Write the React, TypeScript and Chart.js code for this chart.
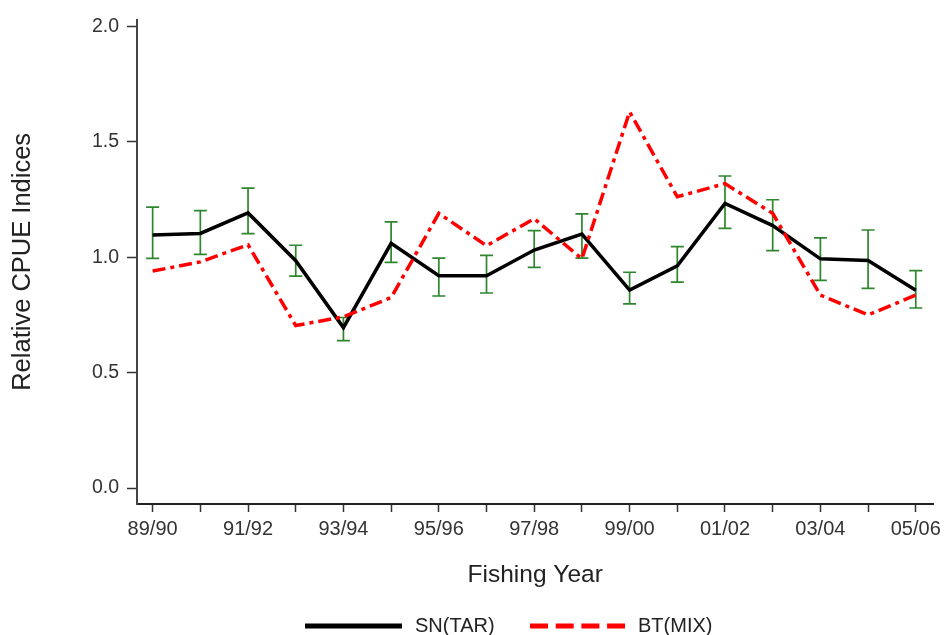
import { useEffect, useRef } from 'react';
import { Chart, registerables } from 'chart.js';

Chart.register(...registerables);

const years = ['89/90', '90/91', '91/92', '92/93', '93/94', '94/95', '95/96', '96/97', '97/98', '98/99', '99/00', '00/01', '01/02', '02/03', '03/04', '04/05', '05/06'];
const snTar = [1.096, 1.103, 1.192, 0.985, 0.695, 1.06, 0.92, 0.92, 1.031, 1.10, 0.858, 0.963, 1.233, 1.137, 0.993, 0.986, 0.857];
const snLow = [0.995, 1.012, 1.102, 0.918, 0.639, 0.978, 0.832, 0.845, 0.956, 0.996, 0.798, 0.892, 1.125, 1.029, 0.90, 0.865, 0.780];
const snHigh = [1.217, 1.202, 1.299, 1.052, 0.739, 1.153, 0.996, 1.008, 1.115, 1.188, 0.935, 1.046, 1.352, 1.249, 1.084, 1.118, 0.942];
const btMix = [0.94, 0.98, 1.054, 0.704, 0.742, 0.825, 1.19, 1.05, 1.167, 0.993, 1.63, 1.262, 1.319, 1.19, 0.836, 0.75, 0.836];
const yTicks = [0, 0.5, 1.0, 1.5, 2.0];

const FONT = "'Liberation Sans', Arial, sans-serif";

const errorBars = {
  id: 'errorBars',
  beforeDatasetsDraw(chart: any) {
    const { ctx, scales } = chart;
    const xs = scales.x;
    const ys = scales.y;
    ctx.save();
    ctx.strokeStyle = '#2e862e';
    ctx.lineWidth = 1.7;
    const cap = 6.5;
    snLow.forEach((lo, i) => {
      const x = xs.getPixelForValue(i);
      const yl = ys.getPixelForValue(lo);
      const yh = ys.getPixelForValue(snHigh[i]);
      ctx.beginPath();
      ctx.moveTo(x, yl);
      ctx.lineTo(x, yh);
      ctx.moveTo(x - cap, yl);
      ctx.lineTo(x + cap, yl);
      ctx.moveTo(x - cap, yh);
      ctx.lineTo(x + cap, yh);
      ctx.stroke();
    });
    ctx.restore();
  },
};

const customLegend = {
  id: 'customLegend',
  afterDraw(chart: any) {
    const { ctx } = chart;
    const y = 626;
    ctx.save();
    ctx.lineWidth = 5;
    ctx.strokeStyle = '#000000';
    ctx.setLineDash([]);
    ctx.beginPath();
    ctx.moveTo(305, y);
    ctx.lineTo(402, y);
    ctx.stroke();
    ctx.strokeStyle = '#ff0000';
    ctx.setLineDash([18, 7.7]);
    ctx.beginPath();
    ctx.moveTo(530, y);
    ctx.lineTo(625, y);
    ctx.stroke();
    ctx.setLineDash([]);
    ctx.fillStyle = '#222222';
    ctx.font = `20px ${FONT}`;
    ctx.textBaseline = 'middle';
    ctx.textAlign = 'left';
    ctx.fillText('SN(TAR)', 415, y);
    ctx.fillText('BT(MIX)', 638, y);
    ctx.restore();
  },
};

export default function App() {
  const ref = useRef<HTMLCanvasElement | null>(null);

  useEffect(() => {
    if (!ref.current) return;
    const chart = new Chart(ref.current, {
      type: 'line',
      data: {
        datasets: [
          {
            label: 'SN(TAR)',
            data: snTar.map((v, i) => ({ x: i, y: v })),
            borderColor: '#000000',
            backgroundColor: '#000000',
            borderWidth: 3.5,
            pointRadius: 0,
            tension: 0,
            order: 2,
          },
          {
            label: 'BT(MIX)',
            data: btMix.map((v, i) => ({ x: i, y: v })),
            borderColor: '#ff0000',
            backgroundColor: '#ff0000',
            borderWidth: 3.5,
            borderDash: [13, 5, 4, 5],
            pointRadius: 0,
            tension: 0,
            order: 1,
          },
        ],
      },
      options: {
        animation: false,
        responsive: true,
        maintainAspectRatio: false,
        layout: { padding: { left: 0, right: 9, top: 15, bottom: 41 } },
        plugins: {
          legend: { display: false },
          tooltip: { enabled: false },
        },
        scales: {
          x: {
            type: 'linear',
            min: -0.328,
            max: 16.37,
            afterBuildTicks: (axis: any) => {
              axis.ticks = years.map((_, i) => ({ value: i }));
            },
            afterFit: (axis: any) => {
              axis.height = 90;
            },
            grid: {
              display: true,
              drawOnChartArea: false,
              drawTicks: true,
              tickLength: 8,
              tickWidth: 1.5,
              tickColor: '#333333',
            },
            border: { display: true, color: '#222222', width: 2 },
            ticks: {
              autoSkip: false,
              maxRotation: 0,
              padding: 5,
              color: '#333333',
              font: { family: FONT, size: 20 },
              callback: (v: any) => (Number(v) % 2 === 0 ? years[Number(v)] : ''),
            },
            title: {
              display: true,
              text: 'Fishing Year',
              color: '#222222',
              font: { family: FONT, size: 24.5 },
              padding: { top: 4, bottom: 4 },
            },
          },
          y: {
            type: 'linear',
            min: -0.069,
            max: 2.029,
            afterBuildTicks: (axis: any) => {
              axis.ticks = yTicks.map((v) => ({ value: v }));
            },
            afterFit: (axis: any) => {
              axis.width = 137;
            },
            grid: {
              display: true,
              drawOnChartArea: false,
              drawTicks: true,
              tickLength: 10,
              tickWidth: 1.5,
              tickColor: '#333333',
            },
            border: { display: true, color: '#444444', width: 2 },
            ticks: {
              padding: 8,
              color: '#333333',
              font: { family: FONT, size: 19.5 },
              callback: (v: any) => Number(v).toFixed(1),
            },
            title: {
              display: true,
              text: 'Relative CPUE Indices',
              color: '#222222',
              font: { family: FONT, size: 25.5 },
              padding: { top: 8, bottom: 0 },
            },
          },
        },
      },
      plugins: [errorBars, customLegend],
    });
    return () => chart.destroy();
  }, []);

  return (
    <div style={{ position: 'fixed', left: 0, top: 0, width: 946, height: 635, background: '#ffffff' }}>
      <canvas ref={ref} />
    </div>
  );
}
